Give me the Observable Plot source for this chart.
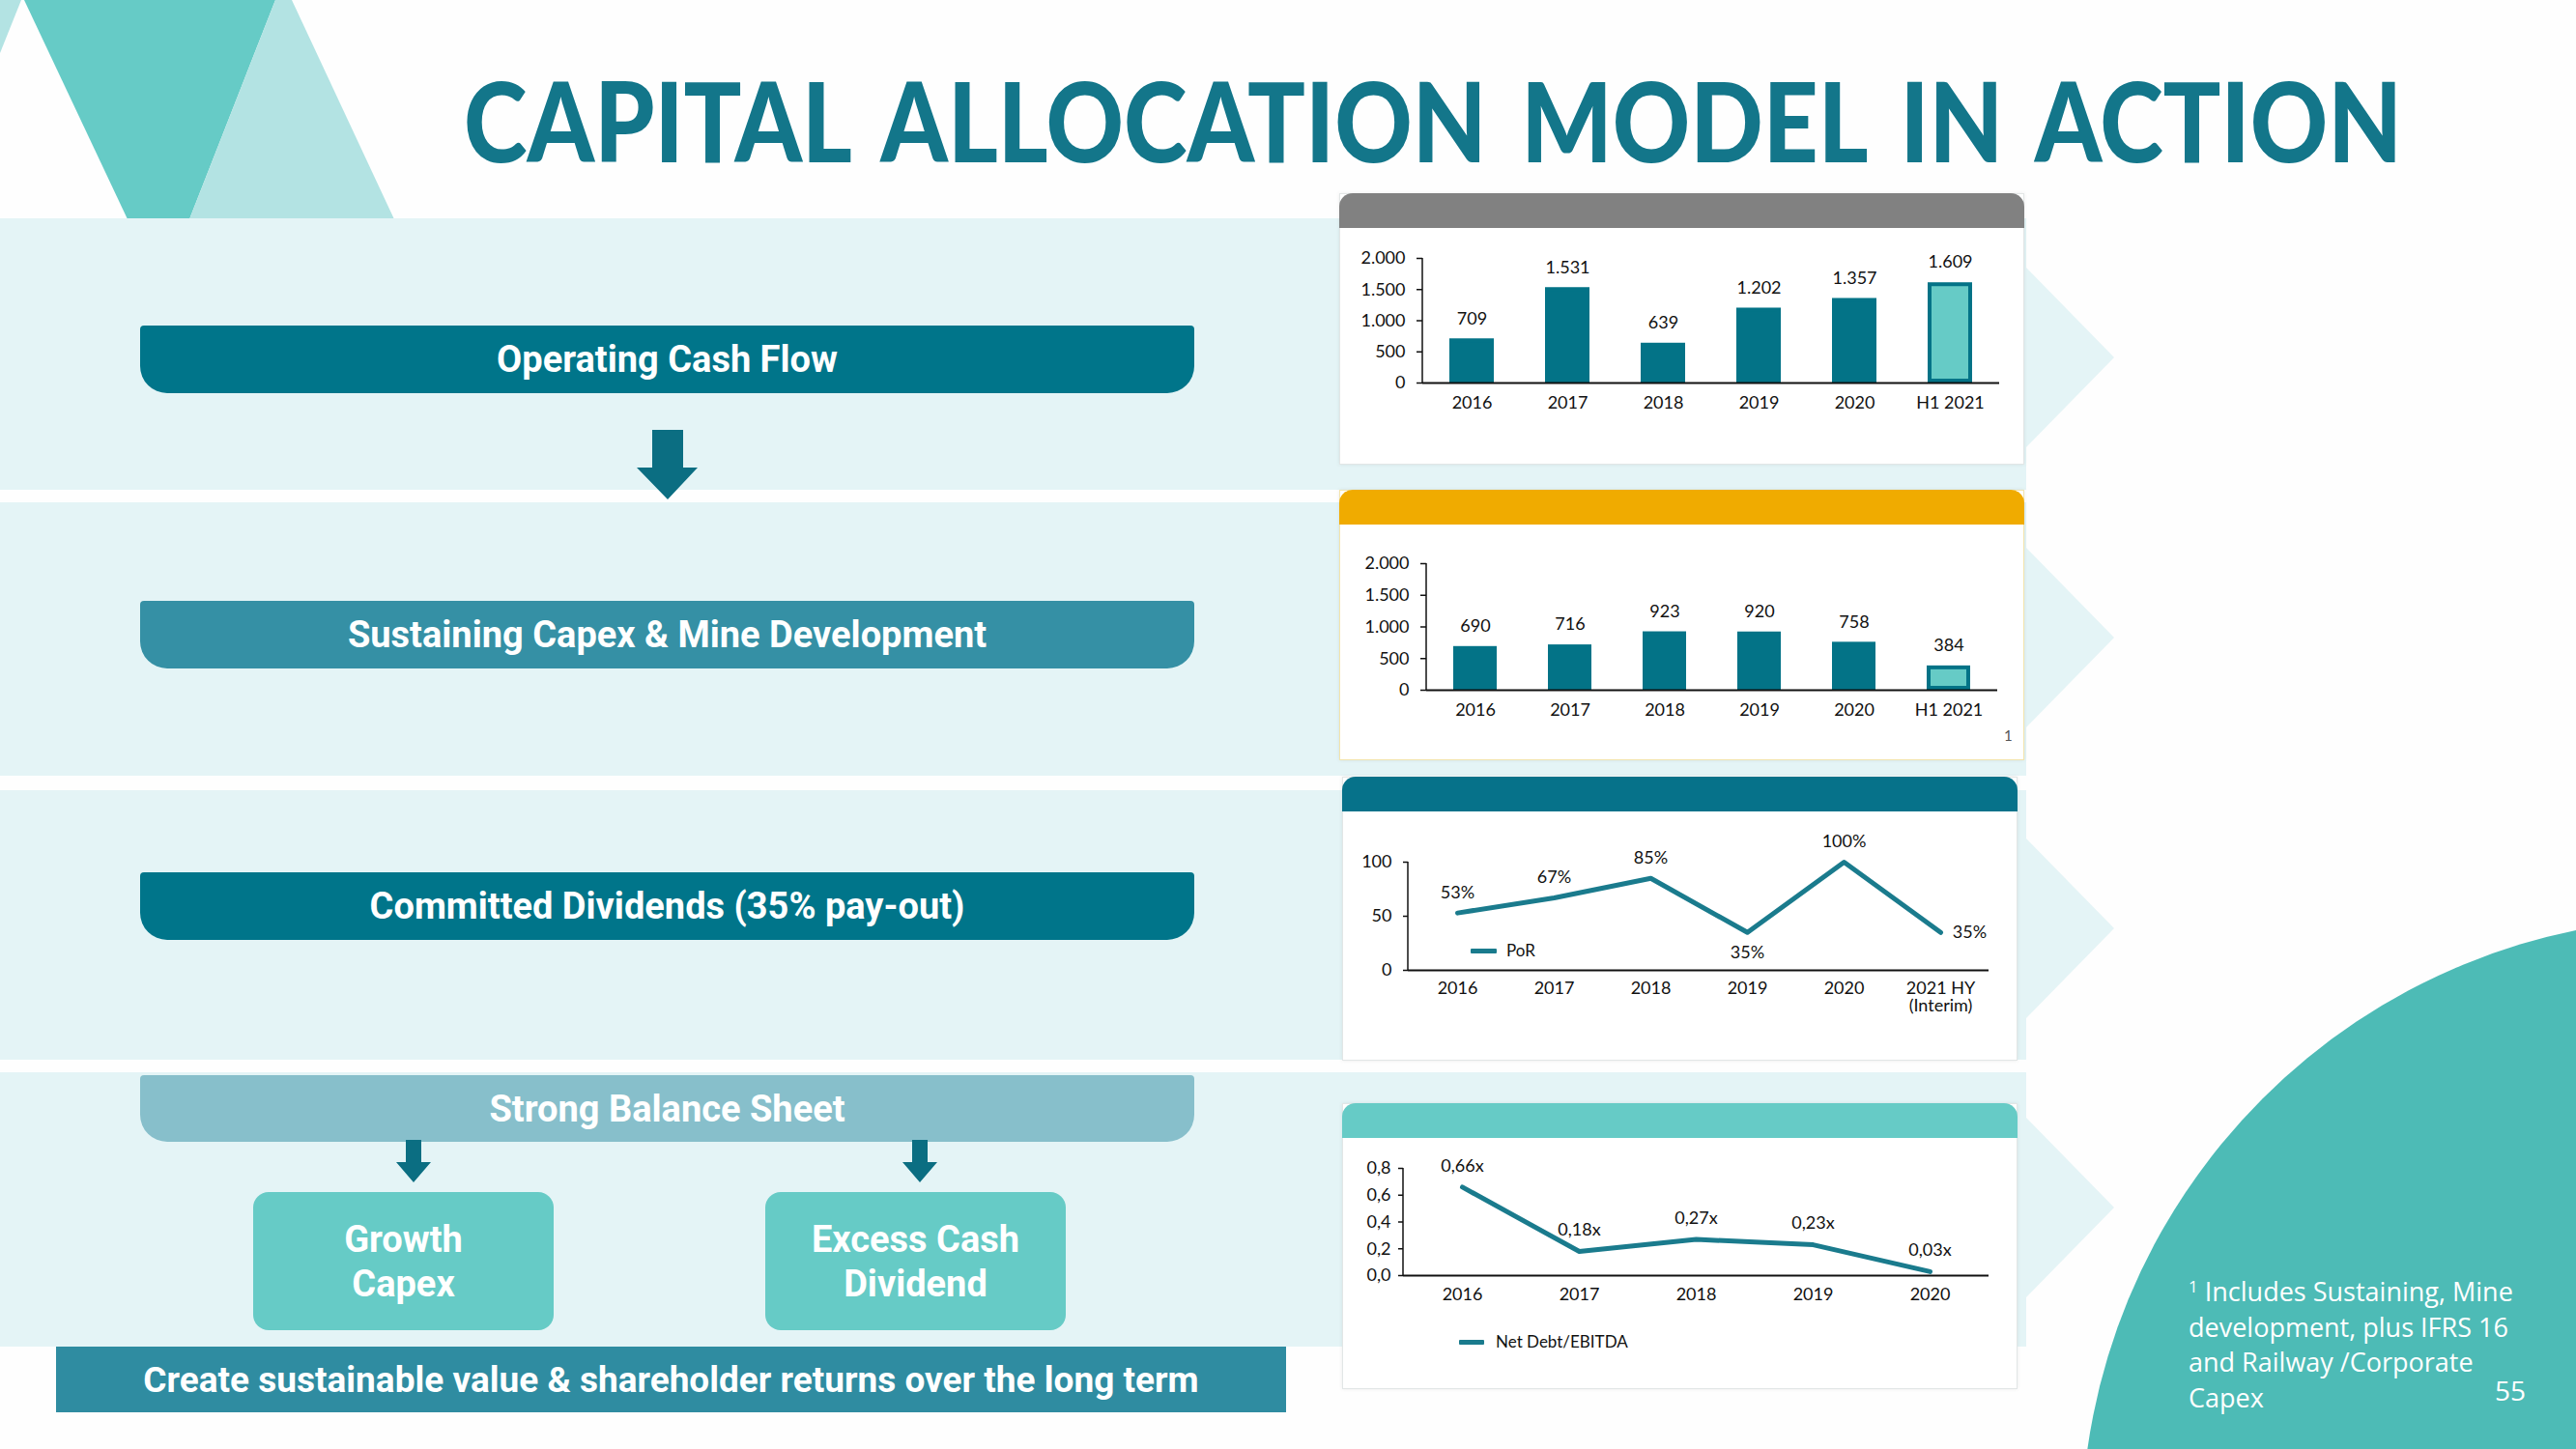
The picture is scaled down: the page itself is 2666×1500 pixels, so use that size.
<!DOCTYPE html>
<html><head><meta charset="utf-8">
<script src="https://cdn.jsdelivr.net/npm/d3@7"></script>
<script src="https://cdn.jsdelivr.net/npm/@observablehq/plot@0.6"></script>
<style>
html,body{margin:0;padding:0;}
body{width:2666px;height:1500px;position:relative;overflow:hidden;background:#fefefe;font-family:Lato,sans-serif;}
.abs{position:absolute;}
.band{position:absolute;left:0;width:2097px;background:#e4f4f6;}
.chev{position:absolute;left:2095px;width:0;height:0;border-top:95px solid transparent;border-bottom:95px solid transparent;border-left:93px solid #e4f4f6;}
.pill{position:absolute;left:145px;width:1091px;height:70px;border-radius:4px 4px 28px 28px;color:#fff;font-family:Roboto,sans-serif;font-weight:700;font-size:38px;display:flex;align-items:center;justify-content:center;}
.box{position:absolute;background:#fff;border:1px solid #e2e6e6;box-shadow:0 0 4px rgba(0,0,0,0.08);}
.head{position:absolute;border-radius:14px 14px 0 0;}
.tile{position:absolute;top:1234px;width:311px;height:143px;border-radius:16px;background:#66cbc6;color:#fff;font-family:Roboto,sans-serif;font-weight:700;font-size:38px;line-height:46px;display:flex;align-items:center;justify-content:center;text-align:center;}
.chart{position:absolute;}
.legline{position:absolute;height:5px;background:#1a7b8d;border-radius:1px;}
.legtext{position:absolute;font-family:Lato,sans-serif;font-size:17px;color:#111;}
#title{position:absolute;left:480px;top:59px;font-family:Lato,sans-serif;font-weight:900;font-size:114px;line-height:130px;color:#13768a;white-space:nowrap;word-spacing:14px;transform-origin:0 0;}
</style></head>
<body>
<script>
// ---------- data ----------
const years = ["2016", "2017", "2018", "2019", "2020", "H1 2021"];
const periodKinds = ["full", "full", "full", "full", "full", "half"];
const operatingCashFlow = [709, 1531, 639, 1202, 1357, 1609];
const sustainingCapex = [690, 716, 923, 920, 758, 384];
const barTicks = [0, 500, 1000, 1500, 2000];

const porYears = ["2016", "2017", "2018", "2019", "2020", "2021 HY\n(Interim)"];
const payoutRatio = [53, 67, 85, 35, 100, 35];
const porTicks = [0, 50, 100];
const porLabelBelow = ["2019"];
const porLabelRight = ["2021 HY\n(Interim)"];

const debtYears = ["2016", "2017", "2018", "2019", "2020"];
const netDebtEbitda = [0.66, 0.18, 0.27, 0.23, 0.03];
const debtTicks = [0, 0.2, 0.4, 0.6, 0.8];

const titleText = "CAPITAL ALLOCATION MODEL IN ACTION";
const steps = ["Operating Cash Flow", "Sustaining Capex & Mine Development", "Committed Dividends (35% pay-out)", "Strong Balance Sheet"];
const tiles = [["Growth", "Capex"], ["Excess Cash", "Dividend"]];
const bannerText = "Create sustainable value & shareholder returns over the long term";
const footnoteLines = ["Includes Sustaining, Mine", "development, plus IFRS 16", "and Railway /Corporate", "Capex"];
const pageNumber = "55";

// ---------- colours ----------
const DARK = "#037387", LIGHT = "#66cbc6", LINE = "#1a7b8d";

// ---------- formatters ----------
const loc = d3.formatLocale({decimal: ",", thousands: ".", grouping: [3], currency: ["", ""]});
const fmtK = loc.format(",");
const fmt1 = loc.format(".1f");
const fmt2 = loc.format(".2f");

const add = (html) => { document.body.insertAdjacentHTML("beforeend", html); };

// ---------- background decoration ----------
add(`<svg class="abs" style="left:0;top:0" width="2666" height="240">
  <polygon points="0,0 22,0 0,55" fill="#b3e3e3"/>
  <polygon points="25,0 285,0 196,227 132,227" fill="#66cbc6"/>
  <polygon points="285,0 302,0 408,227 196,227" fill="#b3e3e3"/>
</svg>`);
add(`<div id="title">${titleText}</div>`);
{
  const t = document.getElementById("title");
  const w = t.getBoundingClientRect().width;
  t.style.transform = `scaleX(${2006 / w})`;
}

add(`<div class="band" style="top:226px;height:281px"></div><div class="chev" style="top:275px"></div>`);
add(`<div class="band" style="top:520px;height:283px"></div><div class="chev" style="top:565px"></div>`);
add(`<div class="band" style="top:818px;height:279px"></div><div class="chev" style="top:866px"></div>`);
add(`<div class="band" style="top:1110px;height:284px"></div><div class="chev" style="top:1155px"></div>`);

// big circle bottom right
add(`<div class="abs" style="left:2154px;top:950px;width:1280px;height:1280px;border-radius:50%;background:#4dbbb6"></div>`);

// pills
add(`<div class="pill" style="top:337px;background:#00758a">${steps[0]}</div>`);
add(`<div class="pill" style="top:622px;background:#3590a5">${steps[1]}</div>`);
add(`<div class="pill" style="top:903px;background:#00758a">${steps[2]}</div>`);
add(`<div class="pill" style="top:1113px;height:69px;background:#87bfcb">${steps[3]}</div>`);

// arrows
add(`<svg class="abs" style="left:0;top:0" width="1400" height="1500">
  <polygon points="675,445 707,445 707,484 722,484 691,517 659,484 675,484" fill="#0b6e82"/>
  <polygon points="420,1180 436,1180 436,1203 446,1203 428,1224 410,1203 420,1203" fill="#0b6e82"/>
  <polygon points="944,1180 960,1180 960,1203 970,1203 952,1224 934,1203 944,1203" fill="#0b6e82"/>
</svg>`);

add(`<div class="tile" style="left:262px">${tiles[0].join("<br>")}</div>`);
add(`<div class="tile" style="left:792px">${tiles[1].join("<br>")}</div>`);
add(`<div class="abs" style="left:58px;top:1394px;width:1273px;height:68px;background:#2f8ca1;color:#fff;font-family:Roboto,sans-serif;font-weight:700;font-size:37px;display:flex;align-items:center;justify-content:center;">${bannerText}</div>`);

// footnote
add(`<div class="abs" style="left:2265px;top:1314px;font-family:'Open Sans',sans-serif;font-size:27px;line-height:36.7px;color:#fff;white-space:nowrap"><sup style="font-size:17px;vertical-align:9px">1</sup> ${footnoteLines.join("<br>")}</div>`);
add(`<div class="abs" style="left:2582px;top:1420px;font-family:'Open Sans',sans-serif;font-size:28px;color:#fff">${pageNumber}</div>`);

// chart boxes
function box(left, top, w, h, headColor, border) {
  add(`<div class="box" style="left:${left}px;top:${top}px;width:${w}px;height:${h}px;${border ? "border-color:" + border : ""}"></div>`);
  add(`<div class="head" style="left:${left}px;top:${top}px;width:${w + 2}px;height:36px;background:${headColor}"></div>`);
}
box(1386, 200, 707, 279, "#818181");
box(1386, 507, 707, 278, "#f0ab00", "#f3e4ad");
box(1389, 804, 697, 292, "#06728a");
box(1389, 1142, 697, 294, "#66cbc6");

// ---------- charts ----------
const chartStyle = {fontFamily: "Lato, sans-serif", fontSize: "18px", color: "#111", background: "transparent", overflow: "visible"};

// vertical y-axis line along the left edge of the frame
function yAxisLine(index, scales, values, dims) {
  const el = document.createElementNS("http://www.w3.org/2000/svg", "line");
  el.setAttribute("x1", dims.marginLeft);
  el.setAttribute("x2", dims.marginLeft);
  el.setAttribute("y1", dims.marginTop);
  el.setAttribute("y2", dims.height - dims.marginBottom);
  el.setAttribute("stroke", "#111");
  el.setAttribute("stroke-width", 1.5);
  return el;
}

function place(el, left, top) {
  const d = document.createElement("div");
  d.className = "chart";
  d.style.left = left + "px";
  d.style.top = top + "px";
  d.appendChild(el);
  document.body.appendChild(d);
}

function barChart(values, opts) {
  const data = years.map((y, i) => ({year: y, value: values[i], period: periodKinds[i]}));
  return Plot.plot({
    width: opts.width, height: opts.height,
    marginLeft: opts.ml, marginRight: opts.mr, marginTop: opts.mt, marginBottom: opts.mb,
    style: chartStyle,
    x: {type: "band", domain: years, paddingInner: 0.54, paddingOuter: 0.27},
    y: {domain: [0, 2000]},
    color: {domain: ["full", "half"], range: [DARK, LIGHT]},
    marks: [
      Plot.barY(data, {x: "year", y: "value", fill: "period", stroke: DARK, strokeWidth: 4, inset: 2}),
      Plot.ruleY([0], {stroke: "#111", strokeWidth: 2}),
      yAxisLine,
      Plot.axisY({ticks: barTicks, tickFormat: fmtK, tickSize: 6, tickPadding: 12, label: null, strokeWidth: 1.5}),
      Plot.axisX({tickSize: 0, tickPadding: opts.xpad, label: null}),
      Plot.text(data, {x: "year", y: "value", text: d => fmtK(d.value), dy: -21})
    ]
  });
}

place(barChart(operatingCashFlow, {width: 709, height: 244, ml: 86, mr: 26, mt: 31, mb: 84, xpad: 14}), 1386, 236);
place(barChart(sustainingCapex, {width: 709, height: 243, ml: 90, mr: 28, mt: 40, mb: 72, xpad: 14}), 1386, 543);
add(`<div class="abs" style="left:2074px;top:752px;font-family:Lato;font-size:15px;color:#555">1</div>`);

// payout ratio line chart
{
  const data = porYears.map((y, i) => ({year: y, value: payoutRatio[i]}));
  const above = data.filter(d => !porLabelBelow.includes(d.year) && !porLabelRight.includes(d.year));
  const below = data.filter(d => porLabelBelow.includes(d.year));
  const right = data.filter(d => porLabelRight.includes(d.year));
  const chart = Plot.plot({
    width: 699, height: 259, marginLeft: 68, marginRight: 30, marginTop: 54, marginBottom: 93,
    style: chartStyle,
    x: {type: "point", domain: porYears, padding: 0.5},
    y: {domain: [0, 100]},
    marks: [
      Plot.ruleY([0], {stroke: "#111", strokeWidth: 2}),
      yAxisLine,
      Plot.axisY({ticks: porTicks, tickSize: 5, tickPadding: 12, label: null, strokeWidth: 1.5}),
      Plot.axisX({tickSize: 0, tickPadding: 12, label: null}),
      Plot.line(data, {x: "year", y: "value", stroke: LINE, strokeWidth: 5}),
      Plot.text(above, {x: "year", y: "value", text: d => d.value + "%", dy: -21}),
      Plot.text(below, {x: "year", y: "value", text: d => d.value + "%", dy: 21}),
      Plot.text(right, {x: "year", y: "value", text: d => d.value + "%", dx: 30})
    ]
  });
  place(chart, 1389, 838);
  add(`<div class="legline" style="left:1522px;top:982px;width:27px"></div><div class="legtext" style="left:1559px;top:973px">PoR</div>`);
}

// net debt / EBITDA line chart
{
  const data = debtYears.map((y, i) => ({year: y, value: netDebtEbitda[i]}));
  const chart = Plot.plot({
    width: 699, height: 259, marginLeft: 63, marginRight: 30, marginTop: 31, marginBottom: 117,
    style: chartStyle,
    x: {type: "point", domain: debtYears, padding: 0.5},
    y: {domain: [0, 0.8]},
    marks: [
      Plot.ruleY([0], {stroke: "#111", strokeWidth: 2}),
      yAxisLine,
      Plot.axisY({ticks: debtTicks, tickFormat: fmt1, tickSize: 5, tickPadding: 8, label: null, strokeWidth: 1.5}),
      Plot.axisX({tickSize: 0, tickPadding: 13, label: null}),
      Plot.line(data, {x: "year", y: "value", stroke: LINE, strokeWidth: 5}),
      Plot.text(data, {x: "year", y: "value", text: d => fmt2(d.value) + "x", dy: -22})
    ]
  });
  place(chart, 1389, 1178);
  add(`<div class="legline" style="left:1510px;top:1387px;width:26px"></div><div class="legtext" style="left:1548px;top:1378px">Net Debt/EBITDA</div>`);
}
</script>
</body></html>
